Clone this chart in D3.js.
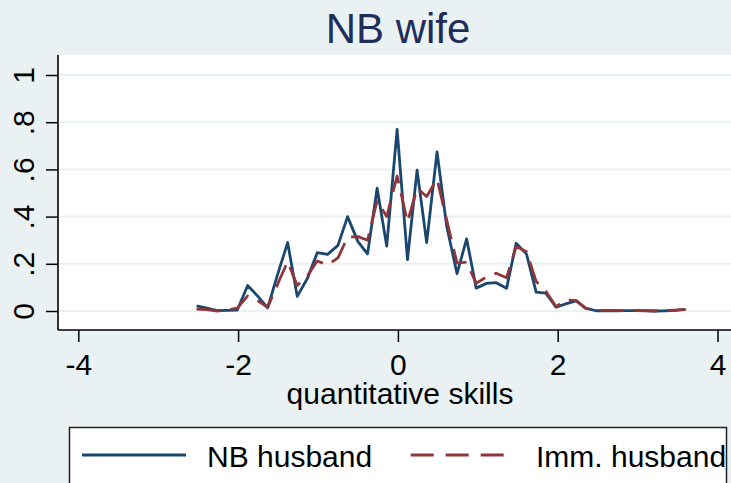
<!DOCTYPE html>
<html>
<head>
<meta charset="utf-8">
<script src="https://cdn.jsdelivr.net/npm/d3@7"></script>
<style>
  body { margin: 0; background: #eaf1f3; }
  text { font-family: "Liberation Sans", Arial, sans-serif; }
</style>
</head>
<body>
<div id="chart"></div>
<script>
const skill = [-2.52, -2.39, -2.26, -2.14, -2.01, -1.88, -1.76, -1.63, -1.51, -1.38,
  -1.26, -1.13, -1.01, -0.88, -0.75, -0.63, -0.50, -0.38, -0.26, -0.14,
  -0.01, 0.12, 0.24, 0.36, 0.49, 0.61, 0.74, 0.86, 0.98, 1.11,
  1.23, 1.36, 1.48, 1.61, 1.73, 1.85, 1.98, 2.10, 2.23, 2.35,
  2.48, 2.60, 2.73, 2.85, 2.97, 3.10, 3.22, 3.35, 3.47, 3.60];

const nbHusband = [0.022, 0.012, 0.002, 0.003, 0.004, 0.108, 0.065, 0.013, 0.15, 0.29,
  0.062, 0.14, 0.247, 0.24, 0.278, 0.40, 0.294, 0.242, 0.52, 0.275,
  0.77, 0.218, 0.597, 0.29, 0.674, 0.36, 0.158, 0.306, 0.097, 0.117,
  0.12, 0.096, 0.287, 0.241, 0.08, 0.076, 0.016, 0.03, 0.043, 0.012,
  0.001, 0.002, 0.001, 0.002, 0.002, 0.001, 0.0, 0.001, 0.003, 0.007];

const immHusband = [0.008, 0.006, 0.0, 0.004, 0.012, 0.064, 0.045, 0.016, 0.11, 0.21,
  0.108, 0.15, 0.212, 0.195, 0.225, 0.313, 0.315, 0.30, 0.468, 0.40,
  0.572, 0.377, 0.52, 0.485, 0.56, 0.386, 0.203, 0.207, 0.117, 0.145,
  0.16, 0.141, 0.273, 0.251, 0.125, 0.085, 0.018, 0.047, 0.045, 0.011,
  0.002, 0.003, 0.003, 0.002, 0.003, 0.002, 0.0, 0.002, 0.004, 0.007];

const xTicks = [-4, -2, 0, 2, 4];
const yTicks = [0, 0.2, 0.4, 0.6, 0.8, 1];
const yTickLabels = ["0", ".2", ".4", ".6", ".8", "1"];

const width = 731;
const height = 483;
const navy = "#1a476f";
const maroon = "#90353b";
const bg = "#eaf1f3";

const svg = d3.select("#chart").append("svg")
  .attr("width", width)
  .attr("height", height);

svg.append("rect")
  .attr("width", width)
  .attr("height", height)
  .style("fill", bg);

// plot region
const plotLeft = 58, plotTop = 55, plotBottom = 330, plotRight = width;

svg.append("rect")
  .attr("x", plotLeft)
  .attr("y", plotTop)
  .attr("width", plotRight - plotLeft)
  .attr("height", plotBottom - plotTop)
  .style("fill", "#fff");

const x = d3.scaleLinear().domain([-4, 4]).range([78.3, 717.5]);
const y = d3.scaleLinear().domain([0, 1]).range([311, 75]);

/*----- gridlines -----*/
svg.append("g").selectAll("line").data(yTicks).enter().append("line")
  .attr("x1", plotLeft)
  .attr("x2", plotRight)
  .attr("y1", (d) => y(d))
  .attr("y2", (d) => y(d))
  .style("stroke", bg)
  .style("stroke-width", 2);

/*----- series -----*/
const line = (vals) => d3.line()
  .x((d, i) => x(skill[i]))
  .y((d) => y(d))(vals);

svg.append("path")
  .attr("d", line(nbHusband))
  .style("fill", "none")
  .style("stroke", navy)
  .style("stroke-width", 2.8)
  .style("stroke-linejoin", "round");

svg.append("path")
  .attr("d", line(immHusband))
  .style("fill", "none")
  .style("stroke", maroon)
  .style("stroke-width", 2.8)
  .style("stroke-dasharray", "24,10")
  .style("stroke-linejoin", "round");

/*----- axes -----*/
const xAxis = svg.append("g")
  .attr("transform", `translate(0,${plotBottom})`)
  .call(d3.axisBottom(x).tickValues(xTicks).tickSize(12).tickSizeOuter(0).tickPadding(12).tickFormat(d3.format("d")));

const yAxis = svg.append("g")
  .attr("transform", `translate(${plotLeft},0)`)
  .call(d3.axisLeft(y).tickValues(yTicks).tickSize(12).tickSizeOuter(0).tickFormat((d, i) => yTickLabels[i]));

[xAxis, yAxis].forEach((a) => {
  a.select(".domain").remove();
  a.selectAll(".tick line").style("stroke", "#000").style("stroke-width", 1.5);
  a.selectAll(".tick text")
    .style("font-size", "30px")
    .style("fill", "#000");
});

xAxis.selectAll(".tick text").text((d) => d < 0 ? "-" + Math.abs(d) : d);

yAxis.selectAll(".tick text")
  .attr("x", null)
  .attr("dy", null)
  .attr("text-anchor", "middle")
  .attr("transform", `translate(${33.5 - plotLeft},0) rotate(-90)`);

svg.append("line")
  .attr("x1", plotLeft).attr("x2", plotLeft)
  .attr("y1", plotTop).attr("y2", plotBottom)
  .style("stroke", "#000").style("stroke-width", 1.6);

svg.append("line")
  .attr("x1", plotLeft).attr("x2", plotRight)
  .attr("y1", plotBottom).attr("y2", plotBottom)
  .style("stroke", "#000").style("stroke-width", 1.6);

/*----- titles -----*/
svg.append("text")
  .attr("x", 398)
  .attr("y", 43)
  .attr("text-anchor", "middle")
  .style("font-size", "42px")
  .style("fill", "#1f2d5b")
  .text("NB wife");

svg.append("text")
  .attr("x", 400)
  .attr("y", 404)
  .attr("text-anchor", "middle")
  .style("font-size", "30px")
  .style("fill", "#000")
  .text("quantitative skills");

/*----- legend -----*/
const legend = svg.append("g");

legend.append("rect")
  .attr("x", 69.5)
  .attr("y", 427.5)
  .attr("width", 657)
  .attr("height", 80)
  .style("fill", "#fff")
  .style("stroke", "#222")
  .style("stroke-width", 1.5);

const legendItems = [
  { label: "NB husband", color: navy, dash: null, x1: 82, x2: 186, tx: 207 },
  { label: "Imm. husband", color: maroon, dash: "23,12", x1: 410.7, x2: 507, tx: 536 }
];

legend.selectAll("line").data(legendItems).enter().append("line")
  .attr("x1", (d) => d.x1)
  .attr("x2", (d) => d.x2)
  .attr("y1", 455)
  .attr("y2", 455)
  .style("stroke", (d) => d.color)
  .style("stroke-width", 2.8)
  .style("stroke-dasharray", (d) => d.dash);

legend.selectAll("text").data(legendItems).enter().append("text")
  .attr("x", (d) => d.tx)
  .attr("y", 467)
  .style("font-size", "30px")
  .style("fill", "#000")
  .text((d) => d.label);
</script>
</body>
</html>
